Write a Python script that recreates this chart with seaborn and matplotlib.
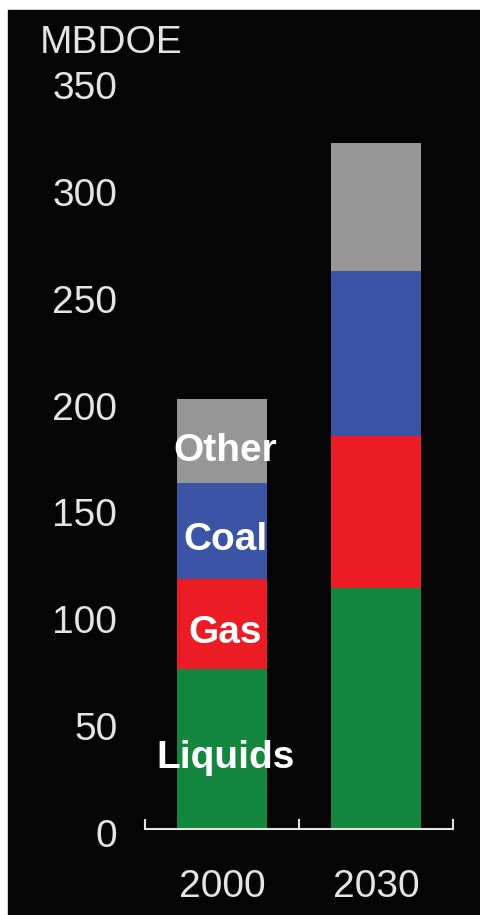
import numpy as np
import pandas as pd
import matplotlib.pyplot as plt
import matplotlib.transforms as mtransforms
from matplotlib.patches import Rectangle
import seaborn as sns

years = ["2000", "2030"]
segments = ["Liquids", "Gas", "Coal", "Other"]
liquids = [75, 113]
gas = [42, 71]
coal = [45, 77]
other = [39, 60]
colors = ["#12873D", "#EC1C24", "#3B54A6", "#969696"]
yticks = [0, 50, 100, 150, 200, 250, 300, 350]

sns.set_theme(style="ticks")
plt.rcParams["font.family"] = ["Liberation Sans", "DejaVu Sans"]
fg = "#E4E4E4"

fig = plt.figure(figsize=(4.81, 9.15), dpi=100, facecolor="white")
# black panel with a thin white edge on the left and top
fig.patches.append(Rectangle((8 / 481, 0), 1, 905 / 915, transform=fig.transFigure,
                             color="#050505", zorder=-10))
ax = fig.add_axes([145 / 481, 86 / 915, 308 / 481, 748 / 915])
ax.set_facecolor("none")

df = pd.DataFrame({"year": years, "Liquids": liquids, "Gas": gas,
                   "Coal": coal, "Other": other})
cum = df[segments].cumsum(axis=1)

# stacked bars: draw cumulative totals from the top layer down
for seg, col in reversed(list(zip(segments, colors))):
    sns.barplot(data=cum.assign(year=df["year"]), x="year", y=seg, color=col,
                width=0.58, saturation=1, linewidth=0, ax=ax)

# segment labels on the 2000 bar
lows = cum.iloc[0].values - df[segments].iloc[0].values
for seg, lo, hi in zip(segments, lows, cum.iloc[0].values):
    ax.text(0.02, (lo + hi) / 2 - 4.5, seg, color="white", fontsize=28, fontweight="bold",
            ha="center", va="center")

ax.set_xlim(-0.5, 1.5)
ax.set_ylim(0, 350)
ax.set_xlabel("")
ax.set_ylabel("")
ax.set_yticks(yticks)
ax.tick_params(axis="y", length=0, pad=20, labelsize=28, labelcolor=fg)
offset = mtransforms.ScaledTranslation(0, -4 / 100, fig.dpi_scale_trans)
for lab in ax.get_yticklabels():
    lab.set_transform(lab.get_transform() + offset)

ax.set_xticks([0, 1])
ax.set_xticklabels(years)
ax.set_xticks([-0.5, 0.5, 1.5], minor=True)
ax.tick_params(axis="x", which="major", length=0, pad=29, labelsize=28, labelcolor=fg)
ax.tick_params(axis="x", which="minor", direction="in", length=7, width=1.5, color=fg)

for s in ["left", "right", "top"]:
    ax.spines[s].set_visible(False)
ax.spines["bottom"].set_color(fg)
ax.spines["bottom"].set_linewidth(1.5)

fig.text(40 / 481, 1 - 43 / 915, "MBDOE", color=fg, fontsize=28, ha="left", va="center")

fig.savefig("out.png", dpi=100, facecolor=fig.get_facecolor())
